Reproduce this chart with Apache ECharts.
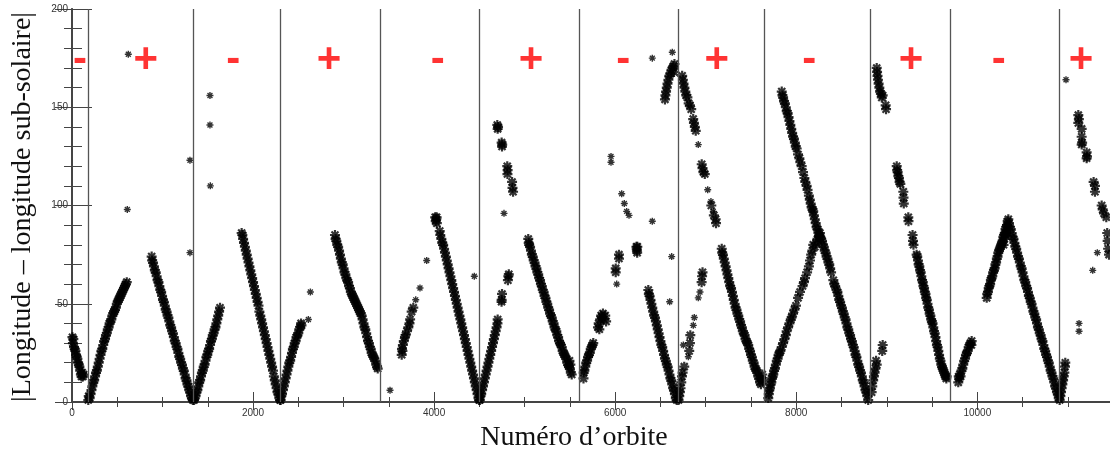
<!DOCTYPE html>
<html><head><meta charset="utf-8">
<script src="https://cdn.jsdelivr.net/npm/echarts@6/dist/echarts.min.js"></script>
<style>html,body{margin:0;padding:0;background:#fff}#c{width:1110px;height:452px}</style>
</head><body><div id="c"></div><script>
// ---- DATA ----
const boundaries = [180, 1344, 2298, 3410, 4499, 5600, 6697, 7652, 8815, 9699, 10903];
const plusOrbits = [814, 2839, 5071, 7122, 9269, 11146];
const minusOrbits = [88, 1782, 4040, 6090, 8145, 10237];
const signLevel = 174;
const xTickLabels = [0, 2000, 4000, 6000, 8000, 10000];
const yTickLabels = [0, 50, 100, 150, 200];

// isolated single points
const isolated = [[611,98],[622,177],[1303,123],[1303,76],[1524,156],[1524,141],[1528,110],[2611,42],[2633,56],[3513,6],[3797,52],[3844,58],[3918,72],[4444,64],[4772,96],[5954,125],[5954,122],[6017,60],[6072,106],[6101,101],[6127,97],[6153,95],[6410,92],[6410,175],[6602,51],[6624,74],[6631,178],[6753,29],[6808,23],[6863,39],[6874,43],[6918,53],[6937,56],[6918,131],[7022,108],[7058,102],[7084,97],[10980,164],[11124,40],[11124,36],[11275,67],[11326,76]];

const segA = [[5,33],[10,30],[15,32],[22,28],[30,27],[38,26],[45,24],[52,23],[60,22],[68,20],[75,19],[82,18],[90,16],[98,14],[105,13],[112,15],[120,13],[128,14],[180,1],[185,3]];
const segB = [[195,2],[205,4],[215,6],[225,8],[235,10],[245,11],[255,13],[265,15],[275,16],[285,18],[295,20],[305,22],[315,24],[325,26],[335,27],[345,29],[355,31],[365,32],[375,34],[385,35],[395,37],[405,38],[415,40],[425,41],[435,42],[445,44],[455,45],[465,46],[475,47],[485,48],[495,50],[505,51],[515,52],[525,53],[535,54],[545,55],[555,56],[565,57],[575,58],[585,59],[595,60],[605,61]];
const segC = [[880,74],[885,72],[895,71],[905,69],[915,67],[925,66],[935,64],[945,62],[955,61],[965,59],[975,57],[985,56],[995,54],[1005,52],[1015,51],[1025,49],[1035,47],[1045,46],[1055,44],[1065,43],[1075,41],[1085,39],[1095,38],[1105,36],[1115,35],[1125,33],[1135,31],[1145,30],[1155,28],[1165,27],[1175,25],[1185,23],[1195,22],[1205,20],[1215,19],[1225,17],[1235,16],[1245,14],[1255,12],[1265,11],[1275,9],[1285,8],[1295,6],[1305,5],[1315,3],[1325,2],[1335,1]];
const segD = [[1348,1],[1355,2],[1365,3],[1375,5],[1385,6],[1395,8],[1405,10],[1415,11],[1425,13],[1435,15],[1445,16],[1455,18],[1465,19],[1475,21],[1485,23],[1495,24],[1505,26],[1515,27],[1525,29],[1535,31],[1545,32],[1555,34],[1565,35],[1575,37],[1585,38],[1595,40],[1605,42],[1615,44],[1625,46],[1635,48]];
const segE = [[1874,86],[1882,85],[1890,83],[1900,81],[1910,79],[1920,77],[1930,75],[1940,73],[1950,71],[1960,69],[1970,67],[1980,65],[1990,63],[2000,61],[2010,59],[2020,57],[2030,55],[2040,53],[2050,51],[2060,49],[2070,46],[2080,44],[2090,42],[2100,40],[2110,38],[2120,36],[2130,34],[2140,32],[2150,30],[2160,28],[2170,26],[2180,24],[2190,22],[2200,20],[2210,18],[2220,16],[2230,13],[2240,11],[2250,9],[2260,7],[2270,5],[2280,4],[2290,2],[2298,1]];
const segF = [[2305,1],[2312,3],[2320,4],[2330,6],[2340,8],[2350,10],[2360,12],[2370,14],[2380,16],[2390,18],[2400,20],[2410,21],[2420,23],[2430,25],[2440,27],[2450,28],[2460,30],[2470,31],[2480,33],[2490,34],[2500,35],[2510,37],[2520,38],[2530,40],[2535,39]];
const segG = [[2905,85],[2912,83],[2920,82],[2930,80],[2940,79],[2950,77],[2960,75],[2970,73],[2980,71],[2990,70],[3000,68],[3010,66],[3020,65],[3030,63],[3040,62],[3050,61],[3060,59],[3070,58],[3080,56],[3090,55],[3100,54],[3110,53],[3120,52],[3130,51],[3140,50],[3150,49],[3160,48],[3170,47],[3180,46],[3190,45],[3200,44],[3210,42],[3220,40],[3230,38],[3240,37],[3250,35],[3260,33],[3270,31],[3280,30],[3290,28],[3300,27],[3310,25],[3320,24],[3330,23],[3340,22],[3350,21],[3360,19],[3370,18],[3377,17]];
const segH = [[3642,24],[3645,27],[3650,26],[3655,29],[3665,31],[3678,33],[3685,34],[3700,36],[3715,38],[3728,40],[3735,42],[3752,46],[3770,48],[4012,94],[4018,92],[4024,93],[4030,91],[4028,94],[4062,87],[4068,85]];
const segI = [[4080,83],[4090,81],[4100,80],[4110,78],[4120,76],[4130,74],[4140,72],[4150,70],[4160,68],[4170,66],[4180,64],[4190,62],[4200,60],[4210,58],[4220,56],[4230,54],[4240,52],[4250,50],[4260,48],[4270,46],[4280,44],[4290,42],[4300,40],[4310,38],[4320,36],[4330,34],[4340,32],[4350,30],[4360,28],[4370,26],[4380,24],[4390,22],[4400,20],[4410,18],[4420,16],[4430,14],[4440,12],[4450,10],[4460,8],[4470,6],[4480,4],[4490,2],[4497,1]];
const segJ = [[4505,1],[4512,3],[4520,4],[4530,6],[4540,8],[4550,10],[4560,12],[4570,14],[4580,16],[4590,18],[4600,20],[4610,22],[4620,24],[4630,26],[4640,28],[4650,30],[4660,32],[4670,34],[4680,36],[4690,38],[4700,40],[4702,42],[4746,52],[4750,55],[4745,51],[4815,62],[4820,64],[4825,65],[4698,141],[4702,139],[4706,140],[4746,132],[4750,130],[4752,131],[4808,120],[4812,118],[4810,116],[4861,112],[4866,109],[4872,107]];
const segK = [[5040,83],[5045,81],[5050,80],[5060,79],[5070,77],[5080,75],[5090,74],[5100,72],[5110,71],[5120,69],[5130,68],[5140,66],[5150,65],[5160,63],[5170,62],[5180,60],[5190,59],[5200,57],[5210,56],[5220,54],[5230,53],[5240,51],[5250,50],[5260,48],[5270,47],[5280,45],[5290,44],[5300,43],[5310,41],[5320,40],[5330,38],[5340,37],[5350,36],[5360,34],[5370,33],[5380,31],[5390,30],[5400,29],[5410,28],[5420,26],[5430,25],[5440,24],[5450,23],[5460,22],[5470,20],[5480,19],[5490,18],[5500,17],[5510,15],[5520,14],[5495,21],[5505,19]];
const segL = [[5650,12],[5652,15],[5660,16],[5670,18],[5680,20],[5690,21],[5700,23],[5710,24],[5720,25],[5730,27],[5740,28],[5750,29],[5758,30],[5810,38],[5818,40],[5825,37],[5835,42],[5845,44],[5855,43],[5865,45],[5875,42],[5890,44],[5900,41],
  [6006,68],[6006,66],[6042,73],[6042,75],[6235,79],[6238,78],[6240,77],[6243,76],[6245,79],
  [6550,154],[6555,156],[6562,158],[6570,160],[6578,162],[6588,164],[6598,166],[6610,167],[6622,169],[6635,170],[6645,171],[6655,172],[6650,168],
  [6366,57],[6372,55],[6380,54],[6390,52],[6400,50],[6410,48],[6420,46],[6430,44],[6440,43],[6450,41],[6460,39],[6470,37],[6480,35],[6490,33],[6500,31],[6510,29],[6520,28],[6530,26],[6540,24],[6550,22],[6560,21],[6570,19],[6580,18],[6590,16],[6600,14],[6610,12],[6620,11],[6630,9],[6640,7],[6650,6],[6660,4],[6670,2],[6680,1]];
const segM = [[6700,1],[6708,3],[6715,5],[6722,7],[6730,10],[6738,13],[6745,15],[6763,18],[6818,26],[6826,30],[6830,34],[6955,61],[6960,64],[6965,66],
  [6740,166],[6748,164],[6755,162],[6765,160],[6775,158],[6785,156],[6798,155],[6812,152],[6826,151],[6840,149],[6862,144],[6870,142],[6880,140],[6890,138],[6956,121],[6965,119],[6975,117],[6990,116],[7062,100],[7090,95],[7110,93],[7114,91],
  [7177,78],[7182,76],[7190,75],[7200,73],[7210,71],[7220,69],[7230,67],[7240,65],[7250,63],[7260,61],[7270,59],[7280,58],[7290,56],[7300,54],[7310,52],[7320,50],[7330,48],[7340,47],[7350,45],[7360,44],[7370,42],[7380,41],[7390,39],[7400,38],[7410,36],[7420,35],[7430,34],[7440,32],[7450,31],[7460,30],[7470,29],[7480,27],[7490,26],[7500,24],[7510,23],[7520,21],[7530,20],[7540,18],[7550,17],[7560,16],[7570,15],[7580,13],[7590,12],[7600,10],[7610,9],[7618,12],[7625,14],[7630,11]];
const segN = [[7840,158],[7848,156],[7855,155],[7865,153],[7875,152],[7885,150],[7895,148],[7905,147],[7915,145],[7925,143],[7935,141],[7945,139],[7955,137],[7965,135],[7975,134],[7985,132],[7995,130],[8005,129],[8020,126],[8035,124],[8045,122],[8060,120],[8075,117],[8090,114],[8100,112],[8115,110],[8125,108],[8140,105],[8150,103],[8160,101],[8170,99],[8180,98],[8188,97],[8195,95],[8205,93],[8215,91],[8225,89],[8235,88],[8245,86],[8255,85],[8265,84],[8275,83],[8285,82],[8295,80],[8305,79],[8315,77],[8325,76],[8335,74],[8345,73],[8355,71],[8365,70],[8375,68],[8385,66],[8410,62],[8420,60],[8430,59],[8445,57],[8455,56],[8465,54],[8475,52],[8485,51],[8495,49],[8505,48],[8515,46],[8525,45],[8535,43],[8545,42],[8555,40],[8565,38],[8575,37],[8585,35],[8595,34],[8605,32],[8615,31],[8625,29],[8635,28],[8645,26],[8655,24],[8665,23],[8675,21],[8685,19],[8695,18],[8705,16],[8715,15],[8725,13],[8735,11],[8745,10],[8755,8],[8765,6],[8775,5],[8785,3],[8795,1],
  [7691,2],[7697,4],[7703,6],[7710,7],[7718,9],[7725,10],[7733,12],[7740,13],[7747,14],[7755,16],[7765,17],[7775,19],[7785,21],[7795,22],[7805,24],[7815,25],[7825,26],[7840,28],[7855,30],[7870,32],[7885,34],[7894,36],[7910,38],[7925,40],[7940,42],[7950,43],[7965,45],[7980,47],[7997,49],[8020,53],[8042,56],[8070,59],[8085,61],[8097,63],[8120,66],[8140,69],[8152,72],[8165,75],[8178,77],[8188,80],[8205,79],[8220,81],[8235,83],[8250,84],[8262,86]];
const segO = [[8833,5],[8840,8],[8850,11],[8858,13],[8866,15],[8875,17],[8889,19],[8882,21],[8950,26],[8955,29],
  [8889,170],[8893,168],[8898,166],[8903,164],[8910,162],[8918,160],[8926,158],[8935,157],[8945,155],[8955,156],[8992,149],[8988,151],
  [9110,120],[9115,118],[9120,117],[9128,115],[9135,114],[9142,112],[9150,111],[9183,107],[9185,104],[9188,101],[9238,94],[9240,92],[9285,85],[9290,82],[9295,80],[9330,75],[9337,74],[9345,72],[9352,70],[9360,69],[9368,67],[9375,66],[9382,64],[9390,62],[9398,61],[9405,59],[9412,58],[9420,56],[9428,55],[9435,53],[9442,52],[9450,50],[9458,48],[9466,47],[9474,45],[9482,44],[9490,42],[9498,41],[9506,40],[9514,38],[9522,36],[9530,35],[9538,33],[9546,31],[9554,29],[9562,28],[9570,26],[9578,24],[9586,22],[9594,21],[9602,19],[9610,18],[9618,17],[9626,16],[9634,15],[9642,14],[9650,13],[9658,12],[9662,13]];
const segP = [[9790,10],[9795,13],[9800,12],[9808,14],[9815,13],[9825,16],[9835,17],[9845,19],[9855,21],[9865,22],[9875,24],[9885,25],[9895,26],[9905,28],[9915,29],[9925,30],[9935,29],[9938,31],
  [10104,53],[10110,55],[10118,56],[10126,58],[10134,59],[10142,60],[10150,62],[10158,63],[10166,64],[10175,66],[10184,67],[10192,68],[10200,70],[10208,71],[10216,73],[10224,74],[10232,76],[10240,77],[10248,78],[10256,79],[10264,80],[10272,81],[10280,82],[10288,84],[10296,85],[10304,86],[10312,88],[10320,89],[10328,90],[10336,92],[10343,93],[10290,80],[10300,83],[10310,85],[10320,86],
  [10350,91],[10360,89],[10370,88],[10380,86],[10390,84],[10400,83],[10410,81],[10420,79],[10430,78],[10440,76],[10450,74],[10460,73],[10470,71],[10480,69],[10490,68],[10500,66],[10510,64],[10520,62],[10530,61],[10540,59],[10550,58],[10560,56],[10570,54],[10580,53],[10590,51],[10600,50],[10610,48],[10620,46],[10630,45],[10640,43],[10650,42],[10660,40],[10670,38],[10680,37],[10690,35],[10700,34],[10710,32],[10720,31],[10730,29],[10740,27],[10750,26],[10760,24],[10770,23],[10780,21],[10790,20],[10800,18],[10810,16],[10820,15],[10830,13],[10840,12],[10850,10],[10860,8],[10870,7],[10880,5],[10890,4],[10900,2],[10910,1]];
const segQ = [[10918,3],[10925,5],[10932,7],[10940,9],[10948,11],[10955,13],[10962,15],[10969,18],[10972,20],
  [11116,146],[11116,142],[11122,144],[11153,139],[11153,135],[11158,132],[11153,131],[11208,127],[11212,125],[11208,124],[11285,112],[11300,110],[11300,107],[11374,100],[11385,98],[11400,96],[11425,94],[11435,86],[11440,82],[11445,78],[11455,75]];

// ---- CHART ----
const bandPoints = [].concat(segA, segB, segC, segD, segE, segF, segG, segH, segI, segJ, segK, segL, segM, segN, segO, segP, segQ);
const XMIN = 0, XMAX = 11466, YMIN = 0, YMAX = 200;
const frame = { show: true, lineStyle: { color: '#444', width: 1.5 } };
const labelFont = { fontFamily: 'Liberation Sans, Arial, sans-serif', fontSize: 10, color: '#333' };
function xAx(position, interval, len, showLabel) {
  return { type: 'value', position, min: XMIN, max: XMAX, interval, splitLine: { show: false },
    axisLine: frame, axisTick: { show: true, inside: true, length: len, lineStyle: { color: '#444', width: 1 } },
    axisLabel: Object.assign({ show: showLabel, margin: 6, showMaxLabel: false,
      formatter: v => xTickLabels.indexOf(v) >= 0 ? String(v) : '' }, labelFont) };
}
function yAx(position, interval, len, showLabel) {
  return { type: 'value', position, min: YMIN, max: YMAX, interval, splitLine: { show: false },
    axisLine: frame, axisTick: { show: true, inside: true, length: len, lineStyle: { color: '#444', width: 1 } },
    axisLabel: Object.assign({ show: showLabel, margin: 4,
      formatter: v => yTickLabels.indexOf(v) >= 0 ? String(v) : '' }, labelFont) };
}
const asterisk = 'path://M5 0L5 10M0 5L10 5M1.5 1.5L8.5 8.5M1.5 8.5L8.5 1.5';
const signLabel = (txt) => ({ show: true, position: 'inside', formatter: txt, color: '#ff0000',
  textBorderWidth: 0, textBorderColor: 'transparent',
  fontSize: 42, fontWeight: 'bold', fontFamily: 'Liberation Sans, Arial, sans-serif' });

const chart = echarts.init(document.getElementById('c'), null, { renderer: 'canvas' });
chart.setOption({
  animation: false,
  backgroundColor: '#fff',
  grid: { left: 72, top: 9, width: 1038, height: 393, containLabel: false },
  xAxis: [xAx('bottom', 500, 5, false), xAx('bottom', 2000, 10, true), xAx('top', 500, 5, false), xAx('top', 2000, 8, false)],
  yAxis: [yAx('left', 10, 10, false), yAx('left', 50, 20, true), yAx('right', 10, 8, false), yAx('right', 50, 17, false)],
  graphic: [
    { type: 'text', x: 23, y: 207, rotation: Math.PI / 2, silent: true,
      style: { text: '|Longitude \u2013 longitude sub-solaire|', font: '28px "Liberation Serif", "Times New Roman", serif',
        fill: '#111', textAlign: 'center', textVerticalAlign: 'middle' } },
    { type: 'text', x: 574, y: 438, silent: true,
      style: { text: 'Num\u00e9ro d\u2019orbite', font: '28px "Liberation Serif", "Times New Roman", serif',
        fill: '#111', textAlign: 'center', textVerticalAlign: 'middle' } }
  ],
  series: [
    { type: 'scatter', name: 'bandes', xAxisIndex: 0, yAxisIndex: 0, data: bandPoints,
      symbol: asterisk, symbolSize: 10,
      itemStyle: { color: 'rgba(0,0,0,0)', borderColor: '#000', borderWidth: 2.2 },
      markLine: { silent: true, symbol: ['none', 'none'], label: { show: false },
        lineStyle: { color: '#555', width: 1.3, type: 'solid' },
        data: boundaries.map(b => ({ xAxis: b })) } },
    { type: 'scatter', name: 'isoles', xAxisIndex: 0, yAxisIndex: 0, data: isolated,
      symbol: asterisk, symbolSize: 7,
      itemStyle: { color: 'rgba(0,0,0,0)', borderColor: '#000', borderWidth: 1.4 } },
    { type: 'scatter', name: 'plus', xAxisIndex: 0, yAxisIndex: 0, symbol: 'circle', symbolSize: 2,
      itemStyle: { color: 'rgba(255,255,255,0)' }, label: signLabel('+'), data: plusOrbits.map(o => [o, signLevel]), z: 5 },
    { type: 'scatter', name: 'minus', xAxisIndex: 0, yAxisIndex: 0, symbol: 'circle', symbolSize: 2,
      itemStyle: { color: 'rgba(255,255,255,0)' }, label: signLabel('-'), data: minusOrbits.map(o => [o, signLevel]), z: 5 }
  ]
});
</script></body></html>
